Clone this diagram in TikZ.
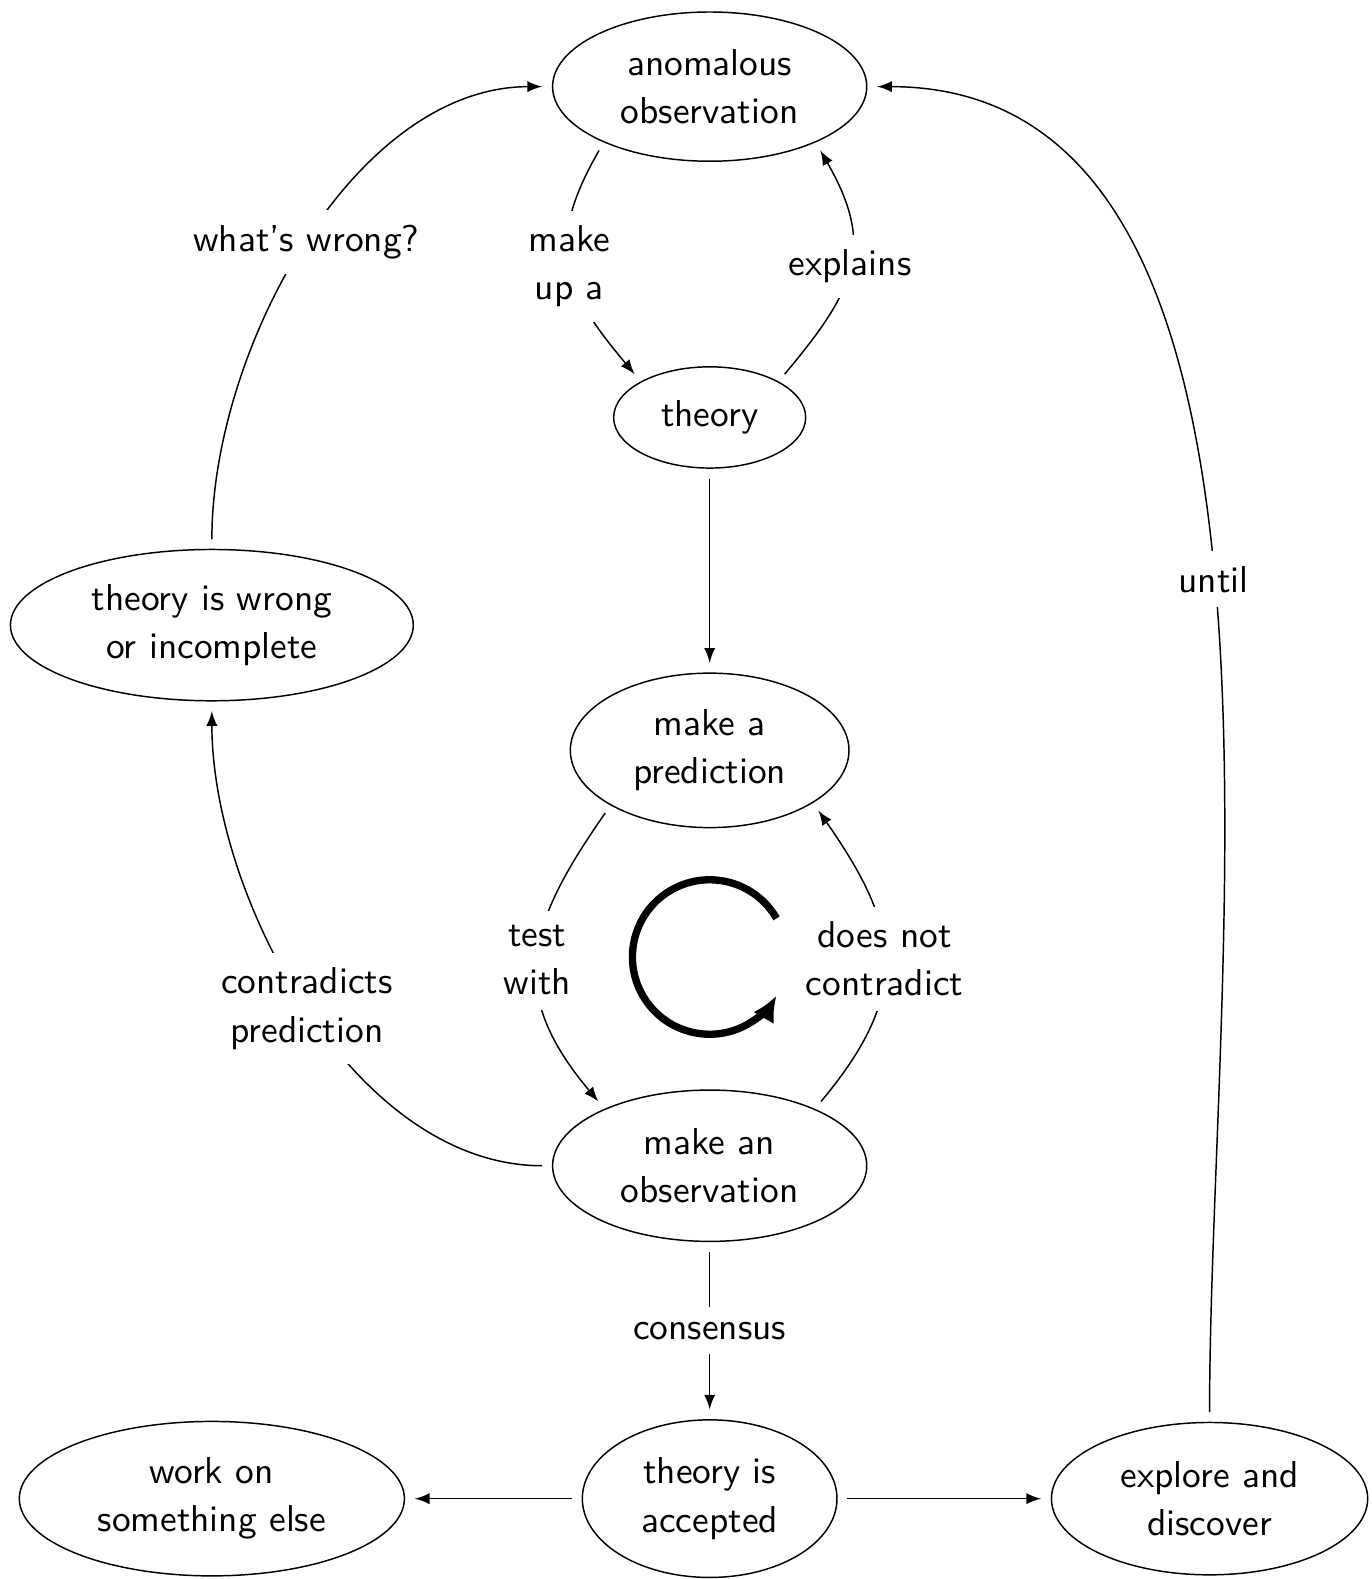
\documentclass[tikz,border=0pt]{standalone}
\usepackage{tikz}
\usetikzlibrary{shapes.geometric, arrows.meta}
\begin{document}
\begin{tikzpicture}[font=\sffamily\fontsize{10.2}{13.1}\selectfont]
\tikzset{ovale/.style={draw, ellipse, align=center, inner sep=0pt, outer sep=0.1cm}}
\tikzset{etiq/.style={fill=white, align=center, inner sep=4pt}}
\useasboundingbox (0,0) rectangle (13.14,-15.13);
\node[ovale, minimum width=3.01cm, minimum height=1.43cm] (Anom) at (6.80,-0.83) {anomalous\\observation};
\node[ovale, minimum width=1.84cm, minimum height=0.97cm] (Theo) at (6.80,-4.00) {theory};
\node[ovale, minimum width=2.67cm, minimum height=1.48cm] (Pred) at (6.80,-7.19) {make a\\prediction};
\node[ovale, minimum width=3.01cm, minimum height=1.45cm] (Obs) at (6.80,-11.17) {make an\\observation};
\node[ovale, minimum width=2.44cm, minimum height=1.51cm] (Acc) at (6.80,-14.36) {theory is\\accepted};
\node[ovale, minimum width=3.69cm, minimum height=1.48cm] (Work) at (2.03,-14.36) {work on\\something else};
\node[ovale, minimum width=3.03cm, minimum height=1.46cm] (Expl) at (11.59,-14.36) {explore and\\discover};
\node[ovale, minimum width=3.86cm, minimum height=1.45cm] (Wrong) at (2.03,-5.99) {theory is wrong\\or incomplete};
\draw[-latex] (Anom.210) to[out=240, in=130, looseness=1.25] node[etiq] {make\\up a} (Theo.150);
\draw[-latex] (Theo.30) to[out=50, in=-60, looseness=1.25] node[etiq] {explains} (Anom.330);
\draw[-latex] (Theo) -- (Pred);
\draw[-latex] (Pred.211) to[out=235, in=130, looseness=1.25] node[etiq] {test\\with} (Obs.150);
\draw[-latex] (Obs.30) to[out=50, in=-55, looseness=1.25] node[etiq] {does not\\contradict} (Pred.331);
\draw[-latex] (Obs.180) to[out=180, in=-90, looseness=0.85] node[etiq] {contradicts\\prediction} (Wrong.south);
\draw[-latex] (Wrong.north) to[out=90, in=180, looseness=0.86] node[etiq] {what's wrong?} (Anom.west);
\draw[-latex] (Obs) -- node[etiq] {consensus} (Acc);
\draw[-latex] (Acc) -- (Work);
\draw[-latex] (Acc) -- (Expl);
\draw[-latex] (Expl.north) to[out=90, in=0, looseness=0.85] node[etiq] {until} (Anom.east);
\draw[line width=2pt, -{Latex[length=7pt, width=6.5pt]}] (6.80,-9.17) ++(30:0.74) arc (30:330:0.74);
\end{tikzpicture}
\end{document}
